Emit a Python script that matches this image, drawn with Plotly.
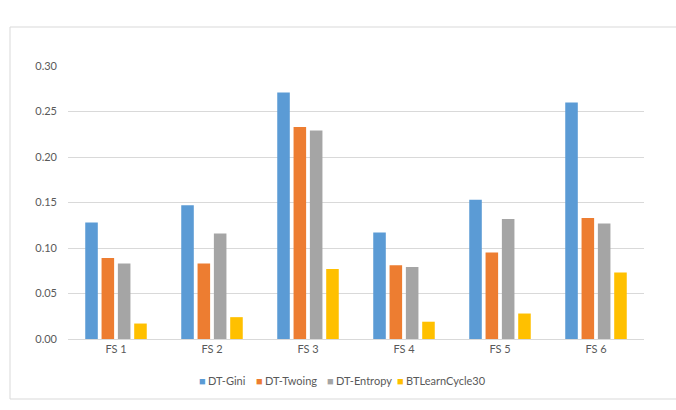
import plotly.graph_objects as go

categories = ["FS 1", "FS 2", "FS 3", "FS 4", "FS 5", "FS 6"]
dt_gini = [0.128, 0.147, 0.271, 0.117, 0.153, 0.260]
dt_twoing = [0.089, 0.083, 0.233, 0.081, 0.095, 0.133]
dt_entropy = [0.083, 0.116, 0.229, 0.079, 0.132, 0.127]
bt_learn = [0.017, 0.024, 0.077, 0.019, 0.028, 0.073]
y_ticks = [0.00, 0.05, 0.10, 0.15, 0.20, 0.25, 0.30]
series_names = ["DT-Gini", "DT-Twoing", "DT-Entropy", "BTLearnCycle30"]
series_colors = ["#5B9BD5", "#ED7D31", "#A5A5A5", "#FFC000"]
legend_px = [202, 259, 330, 400]

W, H = 676, 410
L, R, T, B = 68, 32, 66, 71
pw, ph = W - L - R, H - T - B

def px(x):
    return (x - L) / pw

def py(y):
    return (H - B - y) / ph

fig = go.Figure()
for name, vals, col in zip(series_names, [dt_gini, dt_twoing, dt_entropy, bt_learn], series_colors):
    fig.add_trace(go.Bar(x=categories, y=vals, name=name, showlegend=False,
                         marker=dict(color=col, line=dict(width=0))))

annotations = []
for name, col, lx in zip(series_names, series_colors, legend_px):
    annotations.append(dict(xref="paper", yref="paper", x=px(lx), y=py(380), text="■",
                            showarrow=False, xanchor="center", yanchor="middle",
                            font=dict(size=11, color=col)))
    annotations.append(dict(xref="paper", yref="paper", x=px(lx + 4), y=py(380), text=name,
                            showarrow=False, xanchor="left", yanchor="middle",
                            font=dict(size=11, color="#595959")))

fig.update_layout(
    width=W, height=H,
    margin=dict(l=L, r=R, t=T, b=B),
    paper_bgcolor="white", plot_bgcolor="white",
    barmode="group", bargap=0.32, bargroupgap=0.23,
    font=dict(family="Lato, Open Sans, sans-serif", size=10, color="#595959"),
    xaxis=dict(showgrid=False, showline=True, linecolor="#d9d9d9", linewidth=1,
               ticks="", tickfont=dict(size=11, color="#595959")),
    yaxis=dict(range=[0, 0.30], tickvals=y_ticks, tickformat=".2f",
               showgrid=True, gridcolor="#d9d9d9", gridwidth=1,
               zeroline=False, showline=False, ticks="", ticklabelstandoff=10,
               tickfont=dict(size=11, color="#595959")),
    showlegend=False,
    annotations=annotations,
    shapes=[dict(type="rect", xref="paper", yref="paper",
                 x0=px(10), x1=px(720), y0=py(399), y1=py(27),
                 line=dict(color="#d9d9d9", width=1), fillcolor="rgba(0,0,0,0)", layer="below")],
)

fig.write_html("out.html")
